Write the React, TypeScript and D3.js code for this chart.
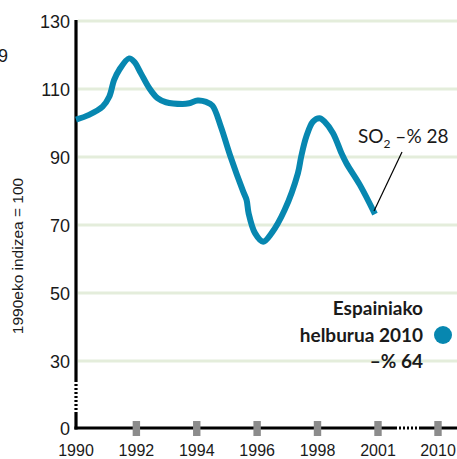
import React from "react";
import * as d3 from "d3";

const years = [
  1990.0, 1990.43, 1990.88, 1991.1, 1991.26, 1991.43, 1991.76, 1991.93, 1992.15, 1992.43,
  1992.7, 1992.98, 1993.53, 1993.75, 1994.03, 1994.31, 1994.52, 1994.8, 1995.1, 1995.54,
  1995.65, 1995.72, 1995.93, 1996.2, 1996.48, 1996.91, 1997.35, 1997.46, 1997.63, 1997.85,
  1998.1, 1998.35, 1998.77, 1999.19, 1999.44, 2000.1, 2000.85,
];
const so2Index = [
  101, 102.4, 104.8, 107.7, 112.6, 115.6, 119.0, 118.0, 114.6, 110.2,
  107.3, 106.1, 105.6, 105.8, 106.6, 106.2, 105.1, 98.9, 90.6, 79.8,
  77.4, 73.4, 67.6, 65.1, 67.6, 74.4, 85.2, 90.1, 96.0, 100.4,
  101.4, 100.4, 97.0, 91.1, 88.1, 81.8, 73.2,
];
const xTickYears = [1990, 1992, 1994, 1996, 1998, 2001, 2010];
const yTickValues = [130, 110, 90, 70, 50, 30, 0];
const gridValues = [130, 110, 90, 70, 50, 30];

const LINE_COLOR = "#0787b0";

export default function App() {
  const x = d3.scaleLinear().domain([1990, 1998, 2001, 2010]).range([76, 317.5, 378, 438]);
  const y = d3.scaleLinear().domain([0, 30, 130]).range([428, 361, 21]);

  const pts = years.map((yr, i) => [yr, so2Index[i]] as [number, number]);
  const line = d3
    .line<[number, number]>()
    .x((d) => x(d[0]))
    .y((d) => y(d[1]))
    .curve(d3.curveCatmullRom.alpha(0.5));

  const axisX = 76;
  const axisY = 428;
  const tickFont = "'Liberation Sans', Arial, sans-serif";
  const annFont = "Lato, 'Open Sans', sans-serif";

  return (
    <svg
      width={457}
      height={459}
      style={{ position: "absolute", left: 0, top: 0, background: "#fff" }}
    >
      {gridValues.map((v) => (
        <line
          key={"g" + v}
          x1={axisX + 2}
          x2={457}
          y1={y(v)}
          y2={y(v)}
          stroke="#e4eddb"
          strokeWidth={3}
        />
      ))}

      <line x1={axisX} x2={axisX} y1={y(130) - 1} y2={380} stroke="#000" strokeWidth={3.2} />
      <line
        x1={axisX}
        x2={axisX}
        y1={380}
        y2={413}
        stroke="#000"
        strokeWidth={3.2}
        strokeDasharray="2,2"
      />
      <line x1={axisX} x2={axisX} y1={413} y2={axisY + 1.5} stroke="#000" strokeWidth={3.2} />

      <line x1={axisX - 1.6} x2={395} y1={axisY} y2={axisY} stroke="#000" strokeWidth={3.2} />
      <line
        x1={395}
        x2={420}
        y1={axisY}
        y2={axisY}
        stroke="#000"
        strokeWidth={3.2}
        strokeDasharray="2,2"
      />
      <line x1={420} x2={457} y1={axisY} y2={axisY} stroke="#000" strokeWidth={3.2} />

      {xTickYears
        .filter((yr) => yr !== 1990)
        .map((yr) => (
          <rect
            key={"t" + yr}
            x={x(yr) - 3.7}
            y={axisY - 7}
            width={7.4}
            height={15}
            fill="#8c8c8c"
          />
        ))}

      {xTickYears.map((yr) => (
        <text
          key={"xl" + yr}
          x={x(yr)}
          y={456}
          textAnchor="middle"
          fontFamily={tickFont}
          fontSize={16}
          fill="#1a1a1a"
        >
          {yr}
        </text>
      ))}

      {yTickValues.map((v) => (
        <text
          key={"yl" + v}
          x={70}
          y={y(v) + 6.5}
          textAnchor="end"
          fontFamily={tickFont}
          fontSize={18}
          fill="#1a1a1a"
        >
          {v}
        </text>
      ))}

      <text
        transform="translate(23,256) rotate(-90)"
        textAnchor="middle"
        fontFamily={tickFont}
        fontSize={15.5}
        fill="#1a1a1a"
      >
        1990eko indizea = 100
      </text>
      <text x={8} y={62} textAnchor="end" fontFamily={tickFont} fontSize={18} fill="#1a1a1a">
        9
      </text>

      <path
        d={line(pts) || ""}
        fill="none"
        stroke={LINE_COLOR}
        strokeWidth={6}
        strokeLinejoin="round"
      />

      <line x1={402} y1={152} x2={374} y2={211} stroke="#000" strokeWidth={1.2} />
      <text x={358} y={143} fontFamily={annFont} fontSize={19} fill="#1a1a1a">
        SO
        <tspan fontSize={12} dy={5}>
          2
        </tspan>
        <tspan dy={-5}> –% 28</tspan>
      </text>

      <g fontFamily={annFont} fontWeight="bold" fontSize={19} fill="#1a1a1a" textAnchor="end">
        <text x={423} y={315}>
          Espainiako
        </text>
        <text x={423} y={342}>
          helburua 2010
        </text>
        <text x={423} y={368}>
          –% 64
        </text>
      </g>
      <circle cx={443} cy={335} r={9} fill={LINE_COLOR} />
    </svg>
  );
}
